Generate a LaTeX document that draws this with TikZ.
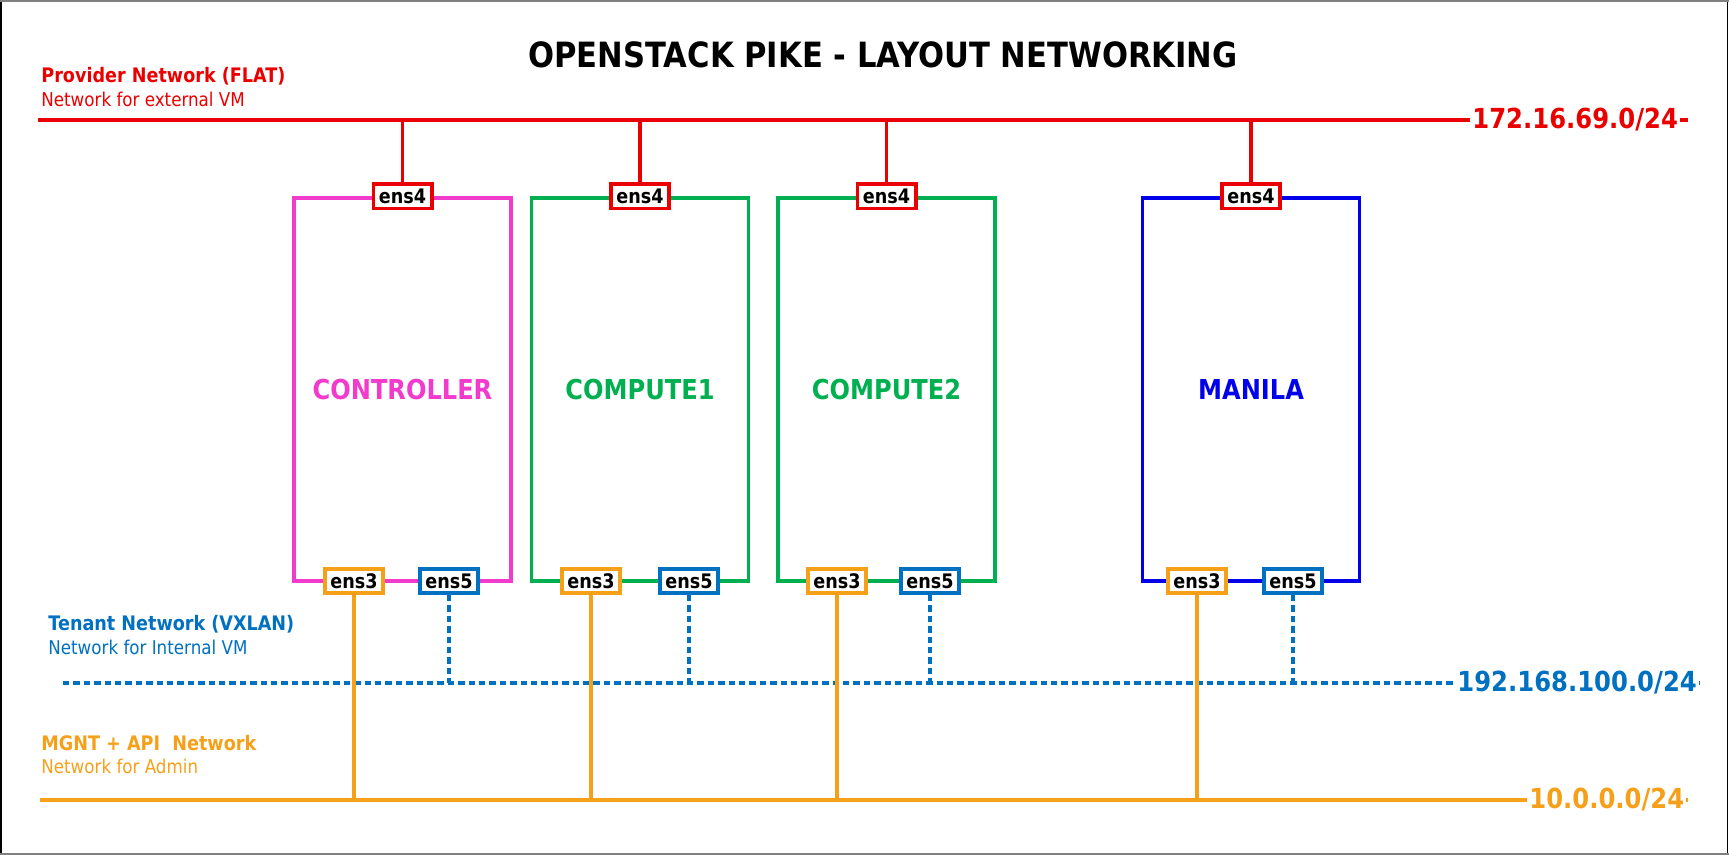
\documentclass[tikz,border=0pt]{standalone}
\usepackage{fontspec}
\setmainfont[FakeStretch=0.88]{DejaVu Sans}
\definecolor{provred}{RGB}{235,0,0}
\definecolor{ctlpink}{RGB}{242,58,204}
\definecolor{cgreen}{RGB}{0,176,80}
\definecolor{mblue}{RGB}{0,0,235}
\definecolor{tblue}{RGB}{0,112,192}
\definecolor{morange}{RGB}{246,160,26}
\definecolor{framegray}{RGB}{128,128,128}
\begin{document}
\begin{tikzpicture}[x=0.5pt,y=-0.5pt,
  host/.style={draw, line width=1.6pt, minimum width=108.5pt, minimum height=191.5pt, inner sep=0pt,
    font=\bfseries\fontsize{13.7}{16}\selectfont},
  ens/.style={draw, fill=white, line width=1.8pt, minimum width=29.2pt, minimum height=12.2pt, inner sep=0pt,
    font=\bfseries\fontsize{10}{12}\selectfont, text=black},
  provline/.style={draw=provred, line width=1.7pt},
  mgline/.style={draw=morange, line width=1.6pt},
  tline/.style={draw=tblue, line width=1.6pt, dash pattern=on 3.2pt off 2pt},
  iplabel/.style={fill=white, inner xsep=1pt, inner ysep=1pt, anchor=west, font=\bfseries\fontsize{13.8}{16}\selectfont},
  headlbl/.style={anchor=base west, inner sep=0pt, font=\bfseries\fontsize{10}{12}\selectfont},
  sublbl/.style={anchor=base west, inner sep=0pt, font=\fontsize{9.5}{12}\selectfont}
]
\useasboundingbox (0,0) rectangle (1729,855);
% frame
\draw[black, line width=0.75pt] (0.75,0) -- (0.75,855);
\draw[black, line width=0.75pt] (1727.5,0) -- (1727.5,855);
\draw[framegray, line width=1pt] (0,1) -- (1729,1);
\draw[framegray, line width=1pt] (0,853.5) -- (1729,853.5);

% title
\node[font=\bfseries\fontsize{17.4}{20}\selectfont, inner sep=0pt] (title) at (883,55) {OPENSTACK PIKE - LAYOUT NETWORKING};

% network labels
\node[headlbl, text=provred] (provT) at (41,83) {Provider Network (FLAT)};
\node[sublbl, text=provred] (provS) at (41,107) {Network for external VM};
\node[headlbl, text=tblue] (tenT) at (48,630) {Tenant Network (VXLAN)};
\node[sublbl, text=tblue] (tenS) at (48,654) {Network for Internal VM};
\node[headlbl, text=morange] (mgT) at (41,750) {MGNT + API\ \ Network};
\node[sublbl, text=morange] (mgS) at (41,773) {Network for Admin};

% network lines
\coordinate (pL) at (38,120); \coordinate (pR) at (1688,120);
\coordinate (tL) at (63,683); \coordinate (tR) at (1700,683);
\coordinate (mL) at (40,800); \coordinate (mR) at (1688,800);
\draw[provline] (pL) -- (pR);
\draw[tline] (tL) -- (tR);
\draw[mgline] (mL) -- (mR);

% hosts
\node[host, draw=ctlpink, text=ctlpink] (ctl) at (402.5,389.5) {CONTROLLER};
\node[host, draw=cgreen, text=cgreen] (cp1) at (640,389.5) {COMPUTE1};
\node[host, draw=cgreen, text=cgreen] (cp2) at (886.5,389.5) {COMPUTE2};
\node[host, draw=mblue, text=mblue] (man) at (1251,389.5) {MANILA};

% interfaces
\node[ens, draw=provred] (ctl4) at (ctl.north) {ens4};
\node[ens, draw=provred] (cp14) at (cp1.north) {ens4};
\node[ens, draw=provred] (cp24) at (cp2.north) {ens4};
\node[ens, draw=provred] (man4) at (man.north) {ens4};

\node[ens, draw=morange] (ctl3) at (354,581) {ens3};
\node[ens, draw=tblue] (ctl5) at (449,581) {ens5};
\node[ens, draw=morange] (cp13) at (591,581) {ens3};
\node[ens, draw=tblue] (cp15) at (689,581) {ens5};
\node[ens, draw=morange] (cp23) at (837,581) {ens3};
\node[ens, draw=tblue] (cp25) at (930,581) {ens5};
\node[ens, draw=morange] (man3) at (1197,581) {ens3};
\node[ens, draw=tblue] (man5) at (1293,581) {ens5};

% drops
\draw[provline] (ctl4.north) -- (ctl4.north |- pL);
\draw[provline] (cp14.north) -- (cp14.north |- pL);
\draw[provline] (cp24.north) -- (cp24.north |- pL);
\draw[provline] (man4.north) -- (man4.north |- pL);

\draw[mgline] (ctl3.south) -- (ctl3.south |- mL);
\draw[mgline] (cp13.south) -- (cp13.south |- mL);
\draw[mgline] (cp23.south) -- (cp23.south |- mL);
\draw[mgline] (man3.south) -- (man3.south |- mL);

\draw[tline] (ctl5.south) -- (ctl5.south |- tL);
\draw[tline] (cp15.south) -- (cp15.south |- tL);
\draw[tline] (cp25.south) -- (cp25.south |- tL);
\draw[tline] (man5.south) -- (man5.south |- tL);

% ip labels
\node[iplabel, text=provred] (pip) at (1470,120) {172.16.69.0/24};
\node[iplabel, text=tblue] (tip) at (1455,683) {192.168.100.0/24};
\node[iplabel, text=morange] (mip) at (1527,800) {10.0.0.0/24};
\end{tikzpicture}
\end{document}
